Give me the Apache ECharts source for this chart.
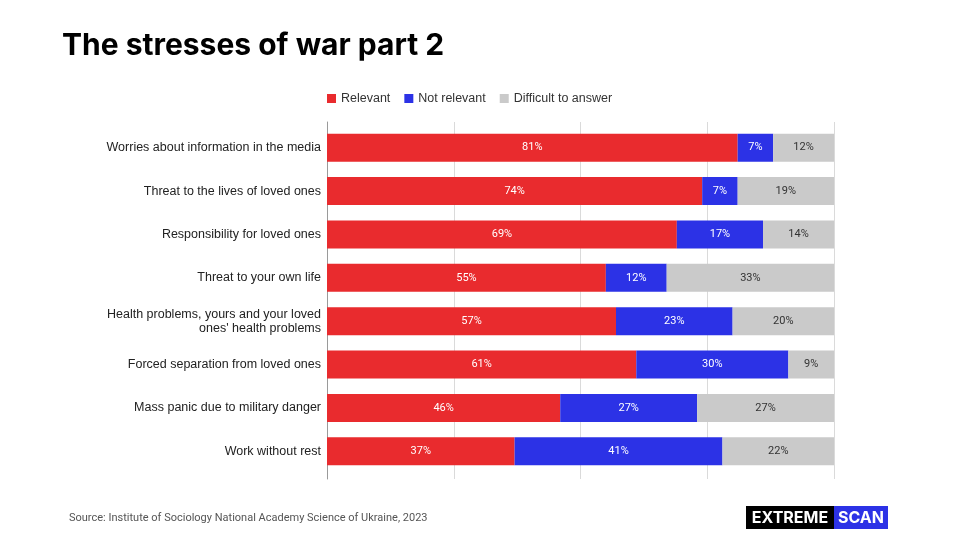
<!DOCTYPE html>
<html>
<head>
<meta charset="utf-8">
<script src="https://cdn.jsdelivr.net/npm/echarts@6/dist/echarts.min.js"></script>
<style>
  html, body { margin: 0; padding: 0; background: #fff; }
  #chart { width: 960px; height: 540px; }
</style>
</head>
<body>
<div id="chart"></div>
<script>
// categories, top to bottom
const categories = [
  'Worries about information in the media',
  'Threat to the lives of loved ones',
  'Responsibility for loved ones',
  'Threat to your own life',
  "Health problems, yours and your loved\nones' health problems",
  'Forced separation from loved ones',
  'Mass panic due to military danger',
  'Work without rest'
]
const relevant    = [81, 74, 69, 55, 57, 61, 46, 37]
const notRelevant = [7, 7, 17, 12, 23, 30, 27, 41]
const difficult   = [12, 19, 14, 33, 20, 9, 27, 22]

const RED = '#E92B2E', BLUE = '#2C32E6', GREY = '#CACACA'

const chart = echarts.init(document.getElementById('chart'))

const barLabel = (color) => ({
  show: true, position: 'inside', formatter: '{c}%',
  color, fontSize: 11, fontFamily: 'Roboto'
})

chart.setOption({
  animation: false,
  backgroundColor: '#fff',
  title: {
    text: 'The stresses of war part 2', left: 57, top: 26,
    textStyle: { fontFamily: 'Inter', fontWeight: 700, fontSize: 30, color: '#000' }
  },
  legend: {
    top: 87, left: 322, icon: 'rect', itemWidth: 9, itemHeight: 9, itemGap: 14,
    textStyle: { fontFamily: 'Liberation Sans', fontSize: 12.5, color: '#333' },
    data: ['Relevant', 'Not relevant', 'Difficult to answer']
  },
  // grid 0: only the frame lines, a bit taller than the bars
  // grid 1: the bars
  grid: [
    { left: 327, width: 507, top: 122, height: 357 },
    { left: 327, width: 507, top: 126, height: 347 }
  ],
  xAxis: [
    { gridIndex: 0, type: 'value', min: 0, max: 100, interval: 25,
      axisLabel: { show: false }, axisTick: { show: false }, axisLine: { show: false },
      splitLine: { lineStyle: { color: '#DADADA', width: 1 } } },
    { gridIndex: 1, type: 'value', min: 0, max: 100, interval: 25,
      axisLabel: { show: false }, axisTick: { show: false }, axisLine: { show: false },
      splitLine: { show: false } }
  ],
  yAxis: [
    { gridIndex: 0, type: 'value', min: 0, max: 1,
      axisLabel: { show: false }, axisTick: { show: false }, splitLine: { show: false },
      axisLine: { show: true, lineStyle: { color: '#9A9A9A', width: 1 } } },
    { gridIndex: 1, type: 'category', data: categories, inverse: true,
      axisLine: { show: false }, axisTick: { show: false },
      axisLabel: { color: '#222', fontSize: 12.5, fontFamily: 'Liberation Sans', margin: 6, lineHeight: 14 } }
  ],
  series: [
    { name: 'Relevant', type: 'bar', stack: 'all', xAxisIndex: 1, yAxisIndex: 1,
      data: relevant, barWidth: 28, itemStyle: { color: RED }, label: barLabel('#fff') },
    { name: 'Not relevant', type: 'bar', stack: 'all', xAxisIndex: 1, yAxisIndex: 1,
      data: notRelevant, barWidth: 28, itemStyle: { color: BLUE }, label: barLabel('#fff') },
    { name: 'Difficult to answer', type: 'bar', stack: 'all', xAxisIndex: 1, yAxisIndex: 1,
      data: difficult, barWidth: 28, itemStyle: { color: GREY }, label: barLabel('#333') }
  ],
  graphic: [
    { type: 'text', left: 69, top: 513,
      style: { text: 'Source: Institute of Sociology National Academy Science of Ukraine, 2023',
        fontFamily: 'Roboto', fontSize: 11, fill: '#555' } },
    { type: 'group', left: 746, top: 506, children: [
      { type: 'rect', shape: { x: 0, y: 0, width: 88, height: 23 }, style: { fill: '#000' } },
      { type: 'rect', shape: { x: 88, y: 0, width: 54, height: 23 }, style: { fill: '#2C32E6' } },
      { type: 'text', x: 44, y: 12, style: { text: 'EXTREME', fill: '#fff', fontFamily: 'Inter',
        fontWeight: 700, fontSize: 16, align: 'center', verticalAlign: 'middle' } },
      { type: 'text', x: 115, y: 12, style: { text: 'SCAN', fill: '#fff', fontFamily: 'Inter',
        fontWeight: 700, fontSize: 16, align: 'center', verticalAlign: 'middle' } }
    ] }
  ]
})
</script>
</body>
</html>
